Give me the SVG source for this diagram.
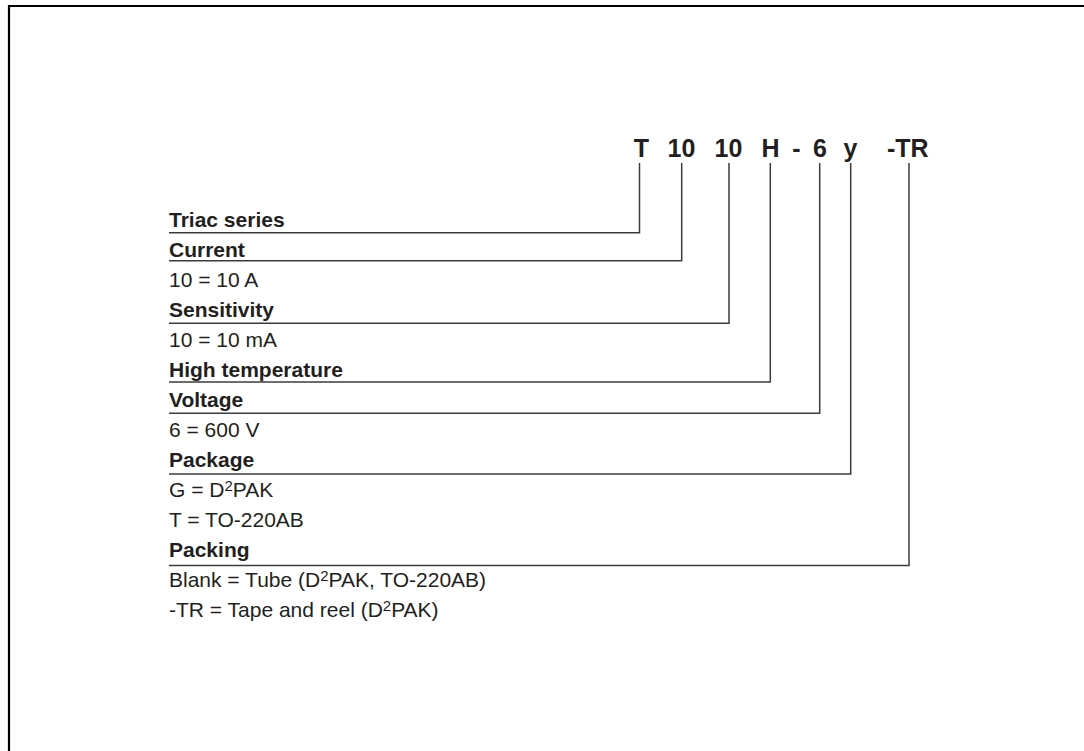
<svg xmlns="http://www.w3.org/2000/svg" width="1084" height="751" viewBox="0 0 1084 751">
<style>
.frame{fill:none;stroke:#000;stroke-width:2.2}
.conn{fill:none;stroke:#3c3c3c;stroke-width:1.5}
.code{font-family:"Liberation Sans",Arial,sans-serif;font-weight:bold;font-size:25px;fill:#231f20;text-anchor:middle}
.hd{font-family:"Liberation Sans",Arial,sans-serif;font-weight:bold;font-size:21px;fill:#231f20}
.tx{font-family:"Liberation Sans",Arial,sans-serif;font-size:21px;fill:#231f20}
.sup{font-size:15px}
</style>
<rect width="1084" height="751" fill="#fff"/>
<path class="frame" d="M9,760 V6 H1095"/>
<g id="code">
<text class="code" x="641.5" y="157">T</text>
<text class="code" x="681.5" y="157">10</text>
<text class="code" x="728.5" y="157">10</text>
<text class="code" x="770.5" y="157">H</text>
<text class="code" x="796.5" y="157">-</text>
<text class="code" x="820" y="157">6</text>
<text class="code" x="850.5" y="157">y</text>
<text class="code" x="887" y="157" style="text-anchor:start">-TR</text>
</g>
<g id="connectors">
<path class="conn" d="M639.5,163 V232.7 H169"/>
<path class="conn" d="M681.7,163 V260.7 H169"/>
<path class="conn" d="M729,163 V323.3 H169"/>
<path class="conn" d="M770.3,163 V382 H169"/>
<path class="conn" d="M819.7,163 V413.3 H169"/>
<path class="conn" d="M850.7,163 V474 H169"/>
<path class="conn" d="M909,163 V565.5 H169"/>
</g>
<g id="triac"><text class="hd" x="169" y="227">Triac series</text></g>
<g id="current"><text class="hd" x="169" y="257">Current</text>
<text class="tx" x="169" y="287">10 = 10 A</text></g>
<g id="sensitivity"><text class="hd" x="169" y="317">Sensitivity</text>
<text class="tx" x="169" y="347">10 = 10 mA</text></g>
<g id="hightemp"><text class="hd" x="169" y="377">High temperature</text></g>
<g id="voltage"><text class="hd" x="169" y="407">Voltage</text>
<text class="tx" x="169" y="437">6 = 600 V</text></g>
<g id="package"><text class="hd" x="169" y="467">Package</text>
<text class="tx" x="169" y="497">G = D<tspan class="sup" dy="-6">2</tspan><tspan dy="6">PAK</tspan></text>
<text class="tx" x="169" y="527">T = TO-220AB</text></g>
<g id="packing"><text class="hd" x="169" y="557">Packing</text>
<text class="tx" x="169" y="587">Blank = Tube (D<tspan class="sup" dy="-6">2</tspan><tspan dy="6">PAK, TO-220AB)</tspan></text>
<text class="tx" x="169" y="617">-TR = Tape and reel (D<tspan class="sup" dy="-6">2</tspan><tspan dy="6">PAK)</tspan></text></g>
</svg>
